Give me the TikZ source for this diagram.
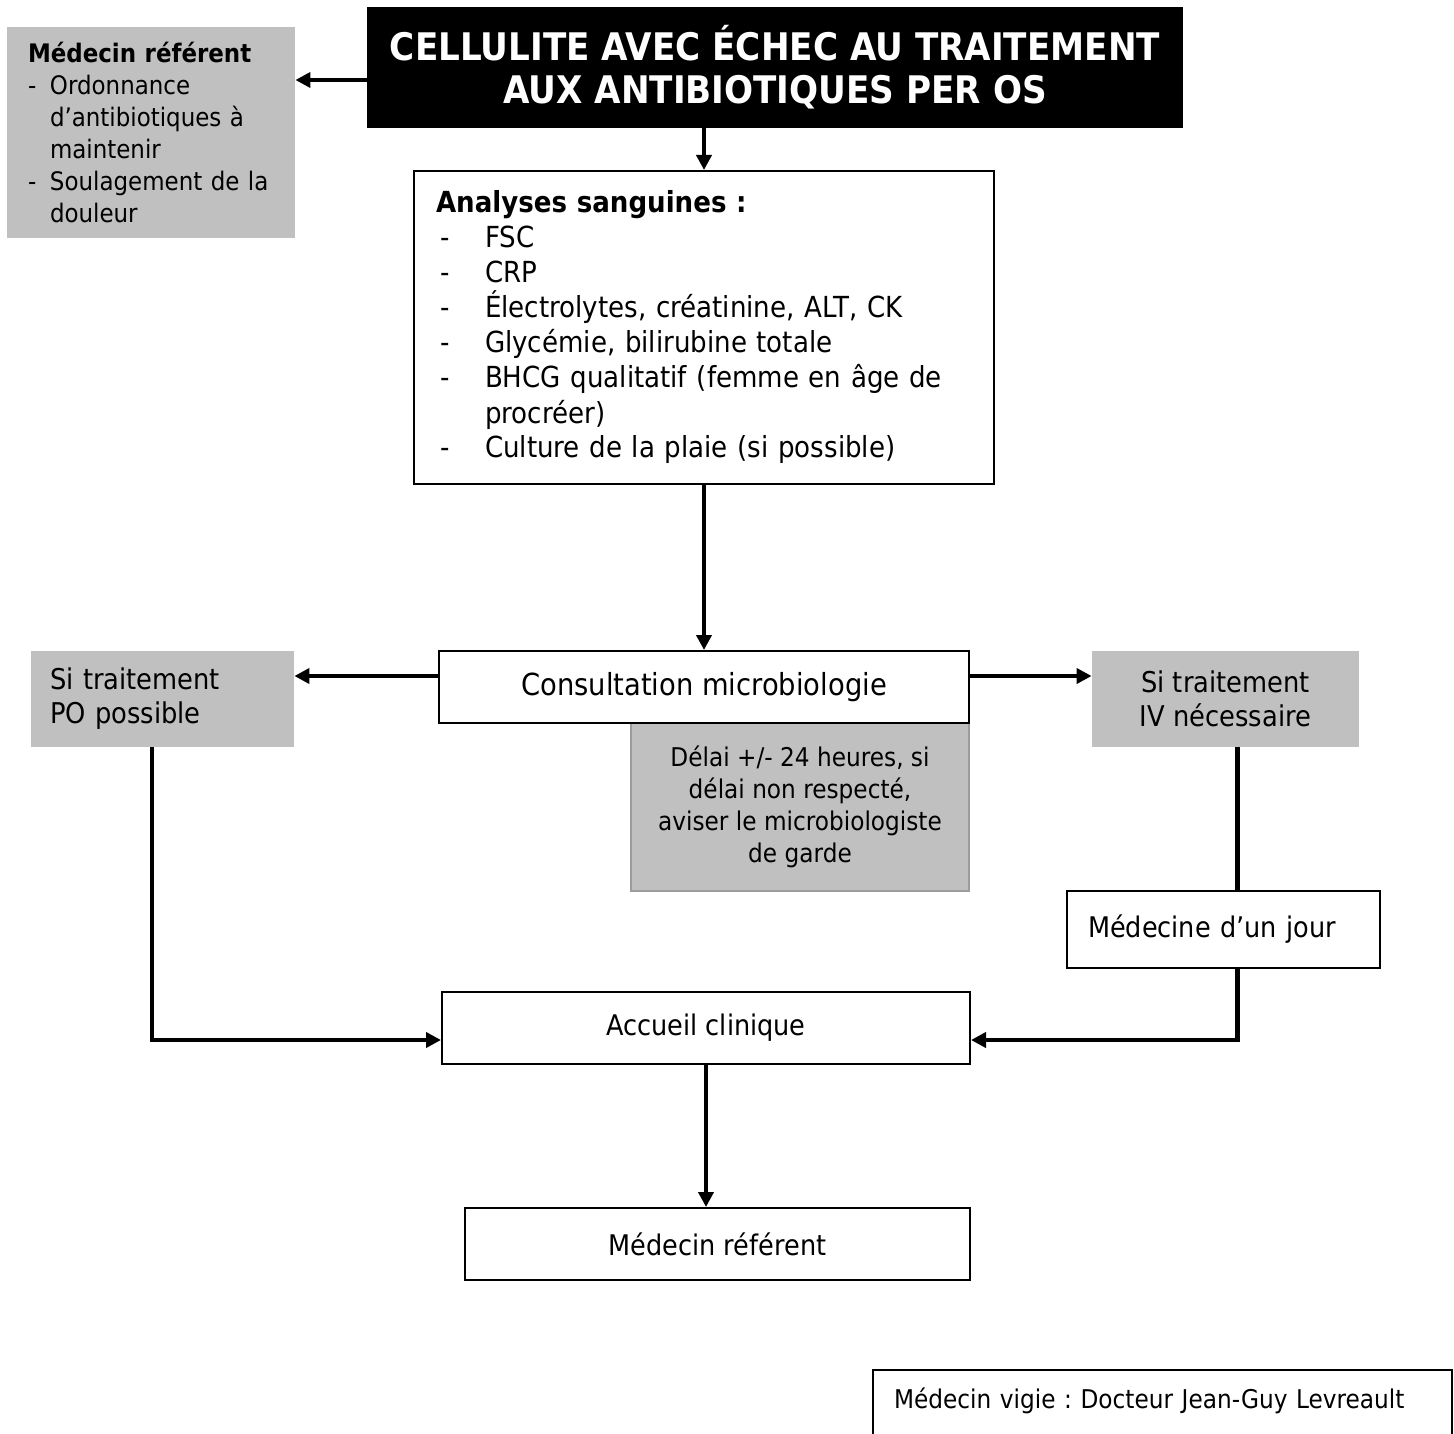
\documentclass[tikz,border=0pt]{standalone}
\usepackage{fontspec}
\setmainfont{DejaVu Sans}[FakeStretch=0.9]
\usetikzlibrary{arrows.meta}
\definecolor{grisclair}{HTML}{C0C0C0}
\definecolor{bordgris}{HTML}{9C9C9C}
\newcommand{\tiret}{\makebox[11pt][l]{-}}
\newcommand{\puce}{\hspace*{2pt}\makebox[22.5pt][l]{-}}
\frenchspacing

\begin{document}
\begin{tikzpicture}[x=0.5pt,y=-0.5pt,
    boite/.style={draw, line width=1pt, fill=white, inner sep=0pt},
    grise/.style={fill=grisclair, inner sep=0pt},
    fleche/.style={line width=2.2pt, -{Triangle[length=7.5pt,width=7.5pt]}},
    trait/.style={line width=2.2pt}]
    \useasboundingbox (0,0) rectangle (1454,1433);
    \clip (0,0) rectangle (1454,1433);
    \node[fill=black, text=white, inner sep=0pt, minimum width=408pt, minimum height=60.5pt, align=center, font=\bfseries\fontsize{19pt}{21.5pt}\selectfont] (titre) at (775,67.5) {CELLULITE AVEC ÉCHEC AU TRAITEMENT\\AUX ANTIBIOTIQUES PER OS};
    \node[grise, minimum width=144pt, minimum height=105.5pt, text width=123pt, inner xsep=10.5pt, align=left, font=\fontsize{12.75pt}{16pt}\selectfont] (referent) at (151,132.5) {\textbf{Médecin référent}\\\tiret Ordonnance\\\hspace*{11pt}d’antibiotiques à\\\hspace*{11pt}maintenir\\\tiret Soulagement de la\\\hspace*{11pt}douleur};
    \node[boite, minimum width=290pt, minimum height=156.5pt, text width=268pt, inner xsep=11pt, align=left, font=\fontsize{14.5pt}{17.5pt}\selectfont] (analyses) at (704,327.5) {\textbf{Analyses sanguines :}\\\puce FSC\\\puce CRP\\\puce Électrolytes, créatinine, ALT, CK\\\puce Glycémie, bilirubine totale\\\puce BHCG qualitatif (femme en âge de\\\hspace*{24.5pt}procréer)\\\puce Culture de la plaie (si possible)};
    \node[grise, draw=bordgris, line width=1pt, minimum width=169pt, minimum height=84pt, align=center, font=\fontsize{12.9pt}{16pt}\selectfont] (delai) at (800,807) {Délai +/- 24 heures, si\\délai non respecté,\\aviser le microbiologiste\\de garde};
    \node[boite, minimum width=265pt, minimum height=36pt, font=\fontsize{15.2pt}{18pt}\selectfont] (consult) at (704,687) {Consultation microbiologie};
    \node[grise, minimum width=131.5pt, minimum height=48pt, text width=112.5pt, inner xsep=9.5pt, align=left, font=\fontsize{14.3pt}{17pt}\selectfont] (po) at (162.5,699) {Si traitement\\PO possible};
    \node[grise, minimum width=133.5pt, minimum height=48pt, align=center, font=\fontsize{14.3pt}{17pt}\selectfont] (iv) at (1225.5,699) {Si traitement\\IV nécessaire};
    \node[boite, minimum width=156.5pt, minimum height=38.5pt, text width=135.5pt, inner xsep=10.5pt, align=left, font=\fontsize{14.2pt}{17pt}\selectfont] (mdj) at (1223.5,929.5) {Médecine d’un jour};
    \node[boite, minimum width=264pt, minimum height=36pt, font=\fontsize{14.2pt}{17pt}\selectfont] (accueil) at (706,1028) {Accueil clinique};
    \node[boite, minimum width=252.5pt, minimum height=36pt, font=\fontsize{14.2pt}{17pt}\selectfont] (medref) at (717.5,1244) {Médecin référent};
    \node[boite, anchor=north west, minimum width=289.5pt, text width=268.5pt, inner xsep=10.5pt, text height=19pt, text depth=60pt, align=left, font=\fontsize{12.9pt}{16pt}\selectfont] (vigie) at (872,1369) {Médecin vigie : Docteur Jean-Guy Levreault};

    \draw[fleche] ([yshift=-6.25pt]titre.west) -- ([yshift=-6.25pt]titre.west -| referent.east);
    \draw[fleche] (analyses.north |- titre.south) -- (analyses.north);
    \draw[fleche] (analyses.south) -- (consult.north);
    \draw[fleche] ([yshift=5.5pt]consult.west) -- ([yshift=5.5pt]consult.west -| po.east);
    \draw[fleche] ([yshift=5.5pt]consult.east) -- ([yshift=5.5pt]consult.east -| iv.west);
    \draw[fleche] ([xshift=-5.25pt]po.south) |- ([yshift=-6pt]accueil.west);
    \draw[trait] ([xshift=6pt]iv.south) -- ([xshift=6pt]iv.south |- mdj.north);
    \draw[fleche] ([xshift=6pt]iv.south |- mdj.south) |- ([yshift=-6pt]accueil.east);
    \draw[fleche] (accueil.south) -- (accueil.south |- medref.north);
\end{tikzpicture}
\end{document}
